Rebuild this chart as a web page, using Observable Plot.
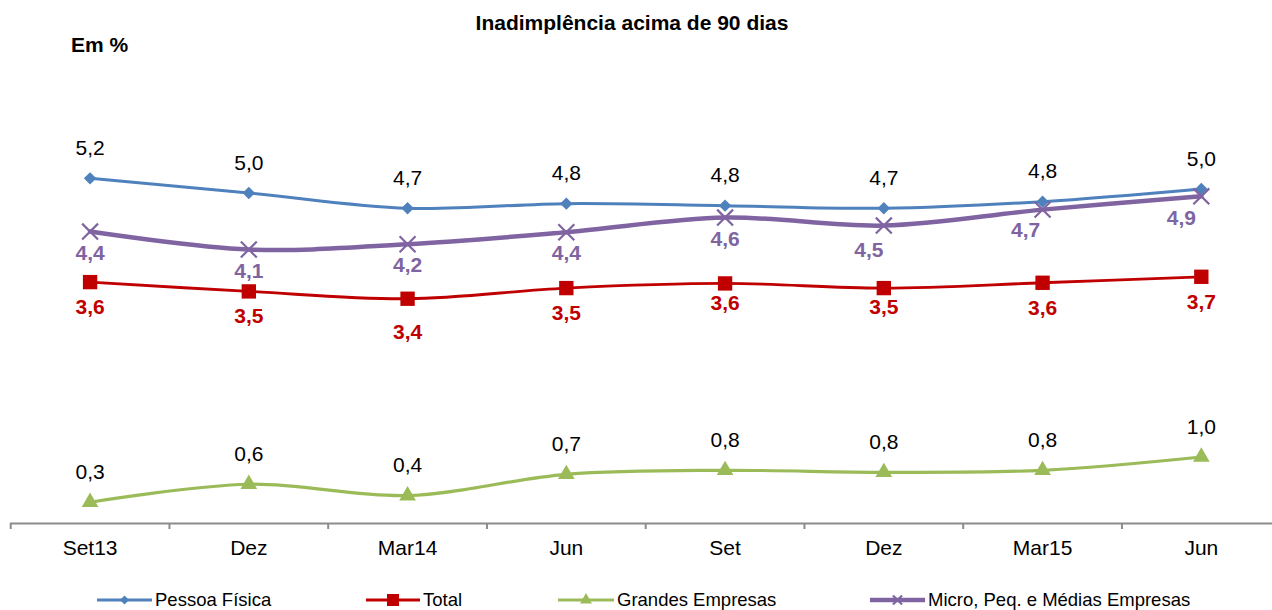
<!DOCTYPE html>
<html>
<head>
<meta charset="utf-8">
<script src="https://cdn.jsdelivr.net/npm/d3@7"></script>
<script src="https://cdn.jsdelivr.net/npm/@observablehq/plot@0.6"></script>
<style>
  html, body { margin: 0; padding: 0; background: #fff; }
  body { width: 1272px; height: 610px; overflow: hidden; font-family: "Liberation Sans", Arial, sans-serif; color: #000; }
  #header { position: relative; height: 60px; }
  #title { position: absolute; left: 0; width: 1264px; top: 12px; text-align: center; font-weight: bold; font-size: 21px; line-height: 21px; }
  #unit { position: absolute; left: 71px; top: 34px; font-weight: bold; font-size: 21px; line-height: 21px; }
  #chart { height: 520px; }
  #chart svg { display: block; overflow: visible; }
  #legend { position: relative; height: 30px; }
  .item { position: absolute; top: 0; height: 30px; }
  .item svg { position: absolute; top: 0; }
  .item span { position: absolute; top: 11px; font-size: 18.5px; line-height: 18.5px; white-space: nowrap; }
</style>
</head>
<body>
<div id="header">
  <div id="title">Inadimplência acima de 90 dias</div>
  <div id="unit">Em %</div>
</div>
<div id="chart"></div>
<div id="legend"></div>
<script>
// ---- data ----
const categories = ["Set13", "Dez", "Mar14", "Jun", "Set", "Dez", "Mar15", "Jun"];
const seriesNames = ["Pessoa Física", "Total", "Grandes Empresas", "Micro, Peq. e Médias Empresas"];
const pessoaFisica = [5.19, 4.97, 4.74, 4.81, 4.78, 4.74, 4.84, 5.03];
const total = [3.63, 3.49, 3.38, 3.54, 3.61, 3.54, 3.62, 3.71];
const grandesEmpresas = [0.32, 0.59, 0.42, 0.74, 0.80, 0.77, 0.80, 1.00];
const microPeqMedias = [4.39, 4.12, 4.20, 4.38, 4.60, 4.48, 4.72, 4.92];
const seriesColors = ["#4F81BD", "#C00000", "#9BBB59", "#8064A2"];

const allValues = [pessoaFisica, total, grandesEmpresas, microPeqMedias];
const rows = allValues.map((vals, s) => vals.map((v, i) => ({series: seriesNames[s], s, i, v})));
const fmt = v => v.toFixed(1).replace(".", ",");
const [rowsPF, rowsTot, rowsGE, rowsMic] = rows;

const catIndex = d3.range(categories.length);
const boundaries = d3.range(-0.5, categories.length, 1);
const curve = "catmull-rom";

const chart = Plot.plot({
  width: 1272,
  height: 520,
  marginTop: 64,
  marginBottom: 57,
  marginLeft: 10,
  marginRight: 0,
  style: {fontFamily: "'Liberation Sans', Arial, sans-serif", background: "transparent", color: "#000"},
  x: {type: "linear", domain: [-0.5, categories.length - 0.5], range: [10.2, 1280.2], axis: null},
  y: {domain: [0, 6], axis: null},
  marks: [
    Plot.ruleY([0], {stroke: "#8c8c8c", strokeWidth: 2}),
    Plot.axisX(boundaries, {tickSize: 6, tickFormat: () => "", stroke: "#8c8c8c", strokeWidth: 2, label: null}),
    Plot.text(catIndex, {x: d => d, frameAnchor: "bottom", lineAnchor: "middle", dy: 25, text: i => categories[i], fontSize: 21, fontWeight: "normal", fill: "#000"}),

    // lines
    Plot.line(rowsPF, {x: "i", y: "v", stroke: seriesColors[0], strokeWidth: 3, curve}),
    Plot.line(rowsTot, {x: "i", y: "v", stroke: seriesColors[1], strokeWidth: 2.8, curve}),
    Plot.line(rowsGE, {x: "i", y: "v", stroke: seriesColors[2], strokeWidth: 3.2, curve}),
    Plot.line(rowsMic, {x: "i", y: "v", stroke: seriesColors[3], strokeWidth: 4.5, curve}),

    // markers
    Plot.dot(rowsPF, {x: "i", y: "v", symbol: "diamond2", r: 5.6, fill: seriesColors[0], stroke: "none"}),
    Plot.dot(rowsTot, {x: "i", y: "v", symbol: "square", r: 8.1, fill: seriesColors[1], stroke: "none"}),
    Plot.dot(rowsGE, {x: "i", y: "v", symbol: "triangle", r: 6.2, fill: seriesColors[2], stroke: "none"}),
    Plot.dot(rowsMic, {x: "i", y: "v", symbol: "times", r: 7.3, stroke: seriesColors[3], strokeWidth: 2.2}),

    // data labels
    Plot.text(rowsPF, {x: "i", y: "v", text: d => fmt(d.v), dy: -30, fontSize: 21, fill: "#000"}),
    Plot.text(rowsGE, {x: "i", y: "v", text: d => fmt(d.v), dy: -30, fontSize: 21, fill: "#000"}),
    Plot.text(rowsTot, {x: "i", y: "v", text: d => fmt(d.v), filter: d => [0, 1, 3, 6, 7].includes(d.i), dy: 25, fontSize: 21, fontWeight: "bold", fill: seriesColors[1]}),
    Plot.text(rowsTot, {x: "i", y: "v", text: d => fmt(d.v), filter: d => d.i === 2, dy: 33.5, fontSize: 21, fontWeight: "bold", fill: seriesColors[1]}),
    Plot.text(rowsTot, {x: "i", y: "v", text: d => fmt(d.v), filter: d => d.i === 4 || d.i === 5, dy: 19.5, fontSize: 21, fontWeight: "bold", fill: seriesColors[1]}),
    Plot.text(rowsMic, {x: "i", y: "v", text: d => fmt(d.v), filter: d => d.i < 5, dy: 21.5, fontSize: 21, fontWeight: "bold", fill: seriesColors[3]}),
    Plot.text(rowsMic, {x: "i", y: "v", text: d => fmt(d.v), filter: d => d.i === 5, dx: -15, dy: 25, fontSize: 21, fontWeight: "bold", fill: seriesColors[3]}),
    Plot.text(rowsMic, {x: "i", y: "v", text: d => fmt(d.v), filter: d => d.i === 6, dx: -17, dy: 21, fontSize: 21, fontWeight: "bold", fill: seriesColors[3]}),
    Plot.text(rowsMic, {x: "i", y: "v", text: d => fmt(d.v), filter: d => d.i === 7, dx: -20, dy: 22, fontSize: 21, fontWeight: "bold", fill: seriesColors[3]})
  ]
});
document.getElementById("chart").appendChild(chart);

// ---- legend ----
const legendLineStart = [97, 366, 558, 870];
const legendTextStart = [155, 423, 617, 928];
const legendSymbols = [
  {type: d3.symbolDiamond2, size: 52, fill: true},
  {type: d3.symbolSquare, size: 144, fill: true},
  {type: d3.symbolTriangle, size: 62, fill: true},
  {type: d3.symbolTimes, size: 56, fill: false}
];
const legendStroke = [3, 2.8, 3.2, 4.5];
const legend = d3.select("#legend");
seriesNames.forEach((name, k) => {
  const item = legend.append("div").attr("class", "item").style("left", legendLineStart[k] + "px");
  const w = legendTextStart[k] - legendLineStart[k] - 3;
  const svg = item.append("svg").attr("width", w).attr("height", 30);
  svg.append("line").attr("x1", 0).attr("x2", w).attr("y1", 20).attr("y2", 20)
    .attr("stroke", seriesColors[k]).attr("stroke-width", legendStroke[k]);
  const sym = legendSymbols[k];
  svg.append("path").attr("transform", `translate(${w / 2},20)`)
    .attr("d", d3.symbol(sym.type, sym.size)())
    .attr("fill", sym.fill ? seriesColors[k] : "none")
    .attr("stroke", sym.fill ? "none" : seriesColors[k])
    .attr("stroke-width", 2.2);
  item.append("span").style("left", (legendTextStart[k] - legendLineStart[k]) + "px").text(name);
});
</script>
</body>
</html>
